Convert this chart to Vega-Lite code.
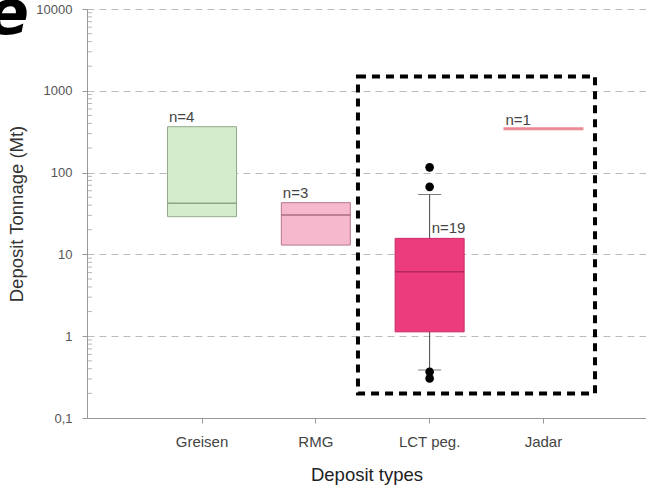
{
  "$schema": "https://vega.github.io/schema/vega-lite/v6.json",
  "autosize": "none",
  "width": 559,
  "height": 409,
  "padding": {"left": 87, "top": 9, "right": 0, "bottom": 71},
  "background": "white",
  "config": {
    "view": {"stroke": null},
    "font": "Liberation Sans"
  },
  "title": {
    "text": "e",
    "anchor": "start",
    "frame": "group",
    "align": "right",
    "baseline": "alphabetic",
    "dx": -58,
    "dy": 97,
    "fontSize": 62,
    "fontWeight": "bold",
    "fontStyle": "italic",
    "font": "DejaVu Sans",
    "color": "black"
  },
  "datasets": {
    "boxes": [
      {"type": "Greisen", "lower": 28.9, "q1": 28.9, "median": 42.2, "q3": 364, "upper": 364, "n": "n=4"},
      {"type": "RMG", "lower": 13, "q1": 13, "median": 30.3, "q3": 42.9, "upper": 42.9, "n": "n=3"},
      {"type": "LCT peg.", "lower": 0.386, "q1": 1.13, "median": 6.15, "q3": 15.7, "upper": 54, "n": "n=19"},
      {"type": "Jadar", "lower": 344, "q1": 344, "median": 344, "q3": 344, "upper": 344, "n": "n=1"}
    ],
    "outliers": [
      {"type": "LCT peg.", "value": 116},
      {"type": "LCT peg.", "value": 67},
      {"type": "LCT peg.", "value": 0.368},
      {"type": "LCT peg.", "value": 0.305}
    ],
    "frame": [
      {"left": 1.373, "right": 3.456, "bottom": 0.2, "top": 1500}
    ],
    "minor": [
      {"v": 0.2}, {"v": 0.3}, {"v": 0.4}, {"v": 0.5}, {"v": 0.6}, {"v": 0.7}, {"v": 0.8}, {"v": 0.9},
      {"v": 2}, {"v": 3}, {"v": 4}, {"v": 5}, {"v": 6}, {"v": 7}, {"v": 8}, {"v": 9},
      {"v": 20}, {"v": 30}, {"v": 40}, {"v": 50}, {"v": 60}, {"v": 70}, {"v": 80}, {"v": 90},
      {"v": 200}, {"v": 300}, {"v": 400}, {"v": 500}, {"v": 600}, {"v": 700}, {"v": 800}, {"v": 900},
      {"v": 2000}, {"v": 3000}, {"v": 4000}, {"v": 5000}, {"v": 6000}, {"v": 7000}, {"v": 8000}, {"v": 9000}
    ]
  },
  "resolve": {"scale": {"x": "independent"}, "axis": {"x": "independent"}},
  "layer": [
    {
      "data": {"name": "boxes"},
      "encoding": {
        "x": {
          "field": "type",
          "type": "nominal",
          "scale": {
            "domain": ["Greisen", "RMG", "LCT peg.", "Jadar"],
            "paddingInner": 0,
            "paddingOuter": 0.456,
            "align": 0.56
          },
          "axis": {
            "title": "Deposit types",
            "labelAngle": 0,
            "labelFontSize": 15,
            "labelColor": "#444",
            "labelPadding": 11,
            "tickSize": 5,
            "tickColor": "#999",
            "domainColor": "#999",
            "grid": false,
            "titleFontSize": 18.5,
            "titleFontWeight": "normal",
            "titleColor": "#222",
            "titlePadding": 16
          }
        }
      },
      "layer": [
        {
          "transform": [{"filter": "datum.upper > datum.q3"}],
          "mark": {"type": "rule", "color": "#444", "strokeWidth": 1},
          "encoding": {
            "y": {
              "field": "lower",
              "type": "quantitative",
              "scale": {"type": "log", "domain": [0.1, 10000], "nice": false},
              "axis": {
                "title": "Deposit Tonnage (Mt)",
                "titleFontSize": 18.5,
                "titleFontWeight": "normal",
                "titleColor": "#333",
                "titlePadding": 9,
                "values": [0.1, 1, 10, 100, 1000, 10000],
                "labelExpr": "datum.value < 0.5 ? '0,1' : format(datum.value, 'd')",
                "labelOverlap": false,
                "labelFlush": false,
                "labelFontSize": 13,
                "labelColor": "#555",
                "labelPadding": 10,
                "domainColor": "#999",
                "tickColor": "#999",
                "tickSize": 5,
                "grid": true,
                "gridDash": [7, 5],
                "gridColor": "#bbb"
              }
            },
            "y2": {"field": "upper"}
          }
        },
        {
          "transform": [{"filter": "datum.upper > datum.q3"}],
          "mark": {"type": "tick", "color": "#444", "thickness": 1, "size": 23},
          "encoding": {
            "y": {"field": "upper", "type": "quantitative", "scale": {"type": "log", "domain": [0.1, 10000], "nice": false}}
          }
        },
        {
          "transform": [{"filter": "datum.upper > datum.q3"}],
          "mark": {"type": "tick", "color": "#444", "thickness": 1, "size": 23},
          "encoding": {
            "y": {"field": "lower", "type": "quantitative", "scale": {"type": "log", "domain": [0.1, 10000], "nice": false}}
          }
        },
        {
          "transform": [{"filter": "datum.q3 > datum.q1"}],
          "mark": {"type": "bar", "size": 69, "strokeWidth": 1},
          "encoding": {
            "y": {"field": "q1", "type": "quantitative", "scale": {"type": "log", "domain": [0.1, 10000], "nice": false}},
            "y2": {"field": "q3"},
            "fill": {
              "field": "type",
              "type": "nominal",
              "scale": {"domain": ["Greisen", "RMG", "LCT peg.", "Jadar"], "range": ["#d4ecca", "#f5b8cc", "#ec3c7d", "#e35a66"]},
              "legend": null
            },
            "stroke": {
              "field": "type",
              "type": "nominal",
              "scale": {"domain": ["Greisen", "RMG", "LCT peg.", "Jadar"], "range": ["#93ab8c", "#b77690", "#c92a66", "#e35a66"]},
              "legend": null
            }
          }
        },
        {
          "transform": [{"filter": "datum.q3 > datum.q1"}],
          "mark": {"type": "tick", "size": 69, "thickness": 1.5},
          "encoding": {
            "y": {"field": "median", "type": "quantitative", "scale": {"type": "log", "domain": [0.1, 10000], "nice": false}},
            "color": {
              "field": "type",
              "type": "nominal",
              "scale": {"domain": ["Greisen", "RMG", "LCT peg.", "Jadar"], "range": ["#6f8a69", "#8e4d67", "#9c1f50", "#e35a66"]},
              "legend": null
            }
          }
        },
        {
          "transform": [{"filter": "datum.type == 'Jadar'"}],
          "mark": {"type": "tick", "size": 80, "thickness": 3, "color": "#e35a66"},
          "encoding": {
            "y": {"field": "median", "type": "quantitative", "scale": {"type": "log", "domain": [0.1, 10000], "nice": false}}
          }
        },
        {
          "data": {"name": "outliers"},
          "mark": {"type": "point", "filled": true, "color": "black", "size": 75, "opacity": 1},
          "encoding": {
            "y": {"field": "value", "type": "quantitative", "scale": {"type": "log", "domain": [0.1, 10000], "nice": false}}
          }
        },
        {
          "transform": [{"filter": "datum.type == 'Greisen' || datum.type == 'RMG'"}],
          "mark": {"type": "text", "align": "left", "baseline": "alphabetic", "dx": -33, "dy": -5, "fontSize": 15, "color": "#444"},
          "encoding": {
            "y": {"field": "q3", "type": "quantitative", "scale": {"type": "log", "domain": [0.1, 10000], "nice": false}},
            "text": {"field": "n"}
          }
        },
        {
          "transform": [{"filter": "datum.type == 'Jadar'"}],
          "mark": {"type": "text", "align": "left", "baseline": "alphabetic", "dx": -38, "dy": -4, "fontSize": 15, "color": "#444"},
          "encoding": {
            "y": {"field": "q3", "type": "quantitative", "scale": {"type": "log", "domain": [0.1, 10000], "nice": false}},
            "text": {"field": "n"}
          }
        },
        {
          "transform": [{"filter": "datum.type == 'LCT peg.'"}],
          "mark": {"type": "text", "align": "left", "baseline": "alphabetic", "dx": 2, "dy": -5, "fontSize": 15, "color": "#444"},
          "encoding": {
            "y": {"field": "q3", "type": "quantitative", "scale": {"type": "log", "domain": [0.1, 10000], "nice": false}},
            "text": {"field": "n"}
          }
        }
      ]
    },
    {
      "data": {"name": "frame"},
      "mark": {"type": "rect", "filled": false, "stroke": "black", "strokeWidth": 4, "strokeDash": [8, 6]},
      "encoding": {
        "x": {"field": "left", "type": "quantitative", "scale": {"domain": [-1.008, 3.904], "zero": false, "nice": false}, "axis": null},
        "x2": {"field": "right"},
        "y": {"field": "bottom", "type": "quantitative", "scale": {"type": "log", "domain": [0.1, 10000], "nice": false}},
        "y2": {"field": "top"}
      }
    },
    {
      "data": {"name": "minor"},
      "mark": {"type": "tick", "orient": "horizontal", "size": 5, "thickness": 1, "color": "#999"},
      "encoding": {
        "x": {"datum": -0.986, "type": "quantitative", "scale": {"domain": [-1.008, 3.904], "zero": false, "nice": false}, "axis": null},
        "y": {"field": "v", "type": "quantitative", "scale": {"type": "log", "domain": [0.1, 10000], "nice": false}}
      }
    }
  ]
}
